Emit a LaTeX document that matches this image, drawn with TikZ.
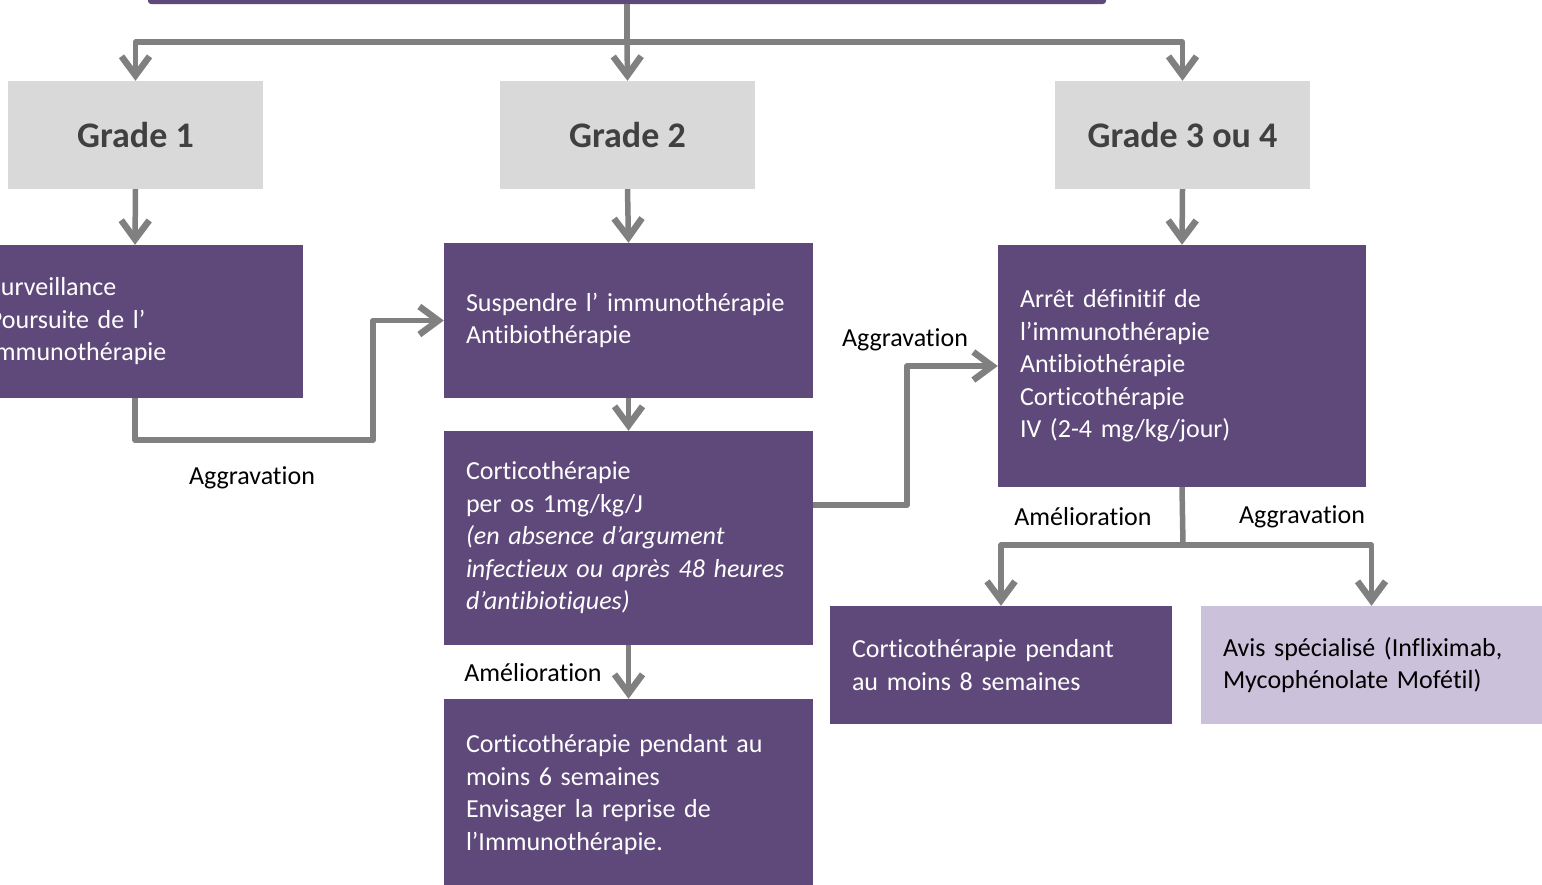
\documentclass[tikz,border=0pt]{standalone}
\usepackage{fontspec}
\setmainfont{Carlito}[Ligatures=NoCommon]
\usetikzlibrary{arrows.meta}
\definecolor{boxpurple}{HTML}{5F497A}
\definecolor{boxlilac}{HTML}{CCC1DA}
\definecolor{gradegray}{HTML}{D9D9D9}
\definecolor{gradetext}{HTML}{404040}
\definecolor{linegray}{HTML}{808080}
\tikzset{
  box/.style={fill=boxpurple, text=white, align=left, inner xsep=22pt, inner ysep=0pt, font=\fontsize{26}{32.5}\selectfont},
  gradebox/.style={fill=gradegray, text=gradetext, font=\fontsize{36}{43}\selectfont\bfseries, minimum width=255pt, minimum height=108pt},
  wire/.style={draw=linegray, line width=5.5pt, line join=round},
  link/.style={wire, -{Straight Barb[length=19pt,width=28pt,line width=6.5pt]}},
  lbl/.style={font=\fontsize{26}{32.5}\selectfont, inner sep=0pt}
}
\begin{document}
\begin{tikzpicture}[x=1pt,y=-1pt]
\useasboundingbox (0,0) rectangle (1542,884);
\node[fill=boxpurple, rounded corners=3pt, minimum width=958pt, minimum height=60pt] (top) at (627,-26) {};
% grades
\node[gradebox] (g1) at (135.5,135) {Grade 1};
\node[gradebox] (g2) at (627.5,135) {Grade 2};
\node[gradebox] (g3) at (1182.5,135) {Grade 3 ou 4};
% actions
\node[box, text width=292pt, minimum height=153pt] (surv) at (135,321.5) {Surveillance\\Poursuite de l’\\immunothérapie};
\node[box, text width=325pt, minimum height=155pt] (susp) at (628.5,320.5) {Suspendre l’ immunothérapie\\Antibiothérapie};
\node[box, text width=325pt, minimum height=214pt] (cort) at (628.5,538) {Corticothérapie\\per os 1mg/kg/J\\\textit{(en absence d’argument}\\\textit{infectieux ou après 48 heures}\\\textit{d’antibiotiques)}};
\node[box, text width=325pt, minimum height=191pt] (repr) at (628.5,794.5) {Corticothérapie pendant au\\moins 6 semaines\\Envisager la reprise de\\l’Immunothérapie.};
\node[box, text width=324pt, minimum height=242pt] (arret) at (1182,366) {Arrêt définitif de\\l’immunothérapie\\Antibiothérapie\\Corticothérapie\\IV (2-4 mg/kg/jour)};
\node[box, text width=298pt, minimum height=118pt] (cort8) at (1001,665) {Corticothérapie pendant\\au moins 8 semaines};
\node[box, fill=boxlilac, text=black, text width=297pt, minimum height=118pt] (avis) at (1371.5,665) {Avis spécialisé (Infliximab,\\Mycophénolate Mofétil)};
% connectors
\coordinate (hub) at (627,42);
\coordinate (split) at (1183,545);
\draw[wire] (top.south) -- (hub);
\draw[link] (hub) -| (g1.north);
\draw[link] (hub) -- (g2.north);
\draw[link] (hub) -| (g3.north);
\draw[link] (g1.south) -- (surv.north);
\draw[link] (g2.south) -- (susp.north);
\draw[link] (g3.south) -- (arret.north);
\draw[link] (susp.south) -- (cort.north);
\draw[link] (cort.south) -- (repr.north);
\draw[link] (surv.south) |- (373,440) |- (susp.west);
\draw[link] ([yshift=33pt]cort.east) -| (907,366) -- (arret.west);
\draw[wire] (arret.south) -- (split);
\draw[link] (split) -| (cort8.north);
\draw[link] (split) -| (avis.north);
% labels
\node[lbl] (agg1) at (252,478) {Aggravation};
\node[lbl] (agg2) at (905,340) {Aggravation};
\node[lbl] (ame1) at (533,673) {Amélioration};
\node[lbl] (ame2) at (1083,517) {Amélioration};
\node[lbl] (agg3) at (1302,517) {Aggravation};
\end{tikzpicture}
\end{document}
